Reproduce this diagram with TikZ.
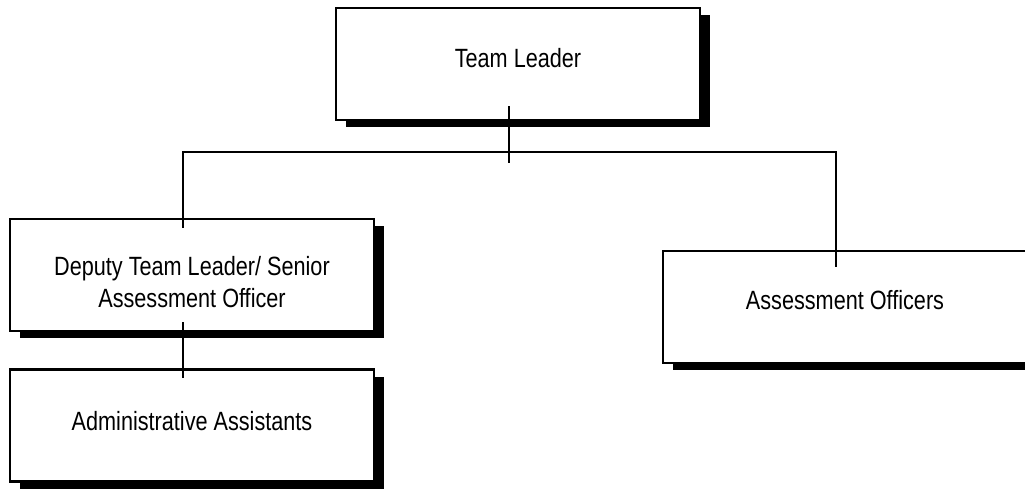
\documentclass[tikz,border=0pt]{standalone}
\usepackage{fontspec}
\setmainfont{Liberation Sans}[FakeStretch=0.82]
\usetikzlibrary{shadows}
\tikzset{>=stealth}
\tikzset{post/.style={draw, line width=2.4pt, fill=white, minimum width=364pt, minimum height=112pt,
    inner sep=0pt, align=center, font=\fontsize{26.4}{31.7}\selectfont,
    drop shadow={shadow xshift=10pt, shadow yshift=-7pt, fill=black, opacity=1}},
  link/.style={line width=2.4pt}}

\begin{document}
\begin{tikzpicture}[x=1pt, y=-1pt]
    \useasboundingbox (0,0) rectangle (1025,489);
    \node[post, text depth=12pt] (lead) at (518,64) {Team Leader};
    \node[post, text height=65pt] (deputy) at (192,275) {Deputy Team Leader/ Senior\\Assessment Officer};
    \node[post, text depth=10pt] (admin) at (192,425.5) {Administrative Assistants};
    \node[post, text depth=14pt] (officers) at (845,307) {Assessment Officers};
    \coordinate (bus) at (0,152);
    \draw[link] ([xshift=-9pt,yshift=15pt]lead.south) -- ([xshift=-9pt,yshift=-42pt]lead.south);
    \draw[link] ([xshift=-9pt,yshift=-10pt]deputy.north) -- ([xshift=-9pt]deputy.north |- bus)
        -- ([xshift=-9pt]officers.north |- bus) -- ([xshift=-9pt,yshift=-17pt]officers.north);
    \draw[link] ([xshift=-9pt,yshift=10pt]deputy.south) -- ([xshift=-9pt,yshift=-10pt]admin.north);
\end{tikzpicture}
\end{document}
